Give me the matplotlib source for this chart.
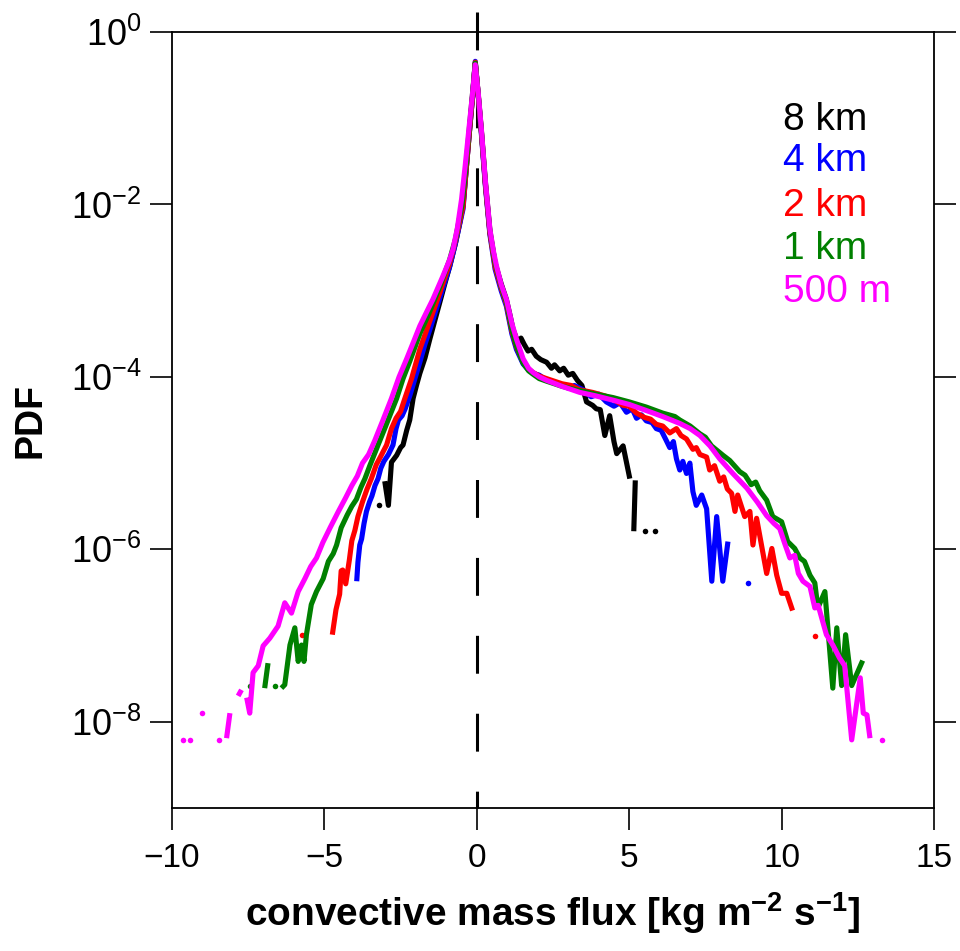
import numpy as np
import matplotlib
matplotlib.use('Agg')
import matplotlib.pyplot as plt
from matplotlib import font_manager
from matplotlib.ticker import FixedLocator

nan = np.nan

# ---- data: x = convective mass flux, lp = log10(PDF) ----
x_8km = [-3.22, nan, -3.02, -2.90, -2.80, -2.63, -2.50, -2.42, -2.30, -2.20, -2.09, -1.98,
         -1.87, -1.70, -1.54, -1.38, -1.21, -1.05, -0.89, -0.70, -0.55, -0.45, -0.35, -0.24,
         -0.14, -0.05, 0.05, 0.15, 0.28, 0.43, 0.60, 0.80, 0.97, 1.10, 1.19, 1.35, 1.45,
         1.55, 1.68, 1.80, 1.95, 2.10, 2.29, 2.45, 2.55, 2.72, 2.85, 3.00, 3.15, 3.30, 3.45,
         3.60, 3.80, 3.92, 4.05, 4.20, 4.36, 4.50, 4.59, 4.80, 5.02, nan, 5.20, 5.15, nan,
         5.51, nan, 5.86]
lp_8km = [-5.49, nan, -5.21, -5.49, -4.99, -4.91, -4.82, -4.79, -4.62, -4.50, -4.25, -4.10,
          -3.96, -3.78, -3.56, -3.35, -3.13, -2.92, -2.72, -2.45, -2.20, -2.00, -1.60, -1.15,
          -0.75, -0.36, -0.75, -1.15, -1.75, -2.32, -2.68, -2.92, -3.10, -3.30, -3.45, -3.60, -3.55,
          -3.62, -3.70, -3.68, -3.76, -3.80, -3.83, -3.90, -3.86, -3.93, -3.90, -3.98, -3.96, -4.04, -4.10,
          -4.29, -4.33, -4.37, -4.38, -4.68, -4.45, -4.75, -4.89, -4.80, -5.18, nan, -5.20, -5.79, nan,
          -5.79, nan, -5.79]

x_4km = [-3.94, -3.90, -3.84, -3.78, -3.70, -3.62, -3.52, -3.44, -3.34, -3.24, -3.15, -3.05,
         -2.90, -2.75, -2.65, -2.57, -2.45, -2.35, -2.20, -2.03, -1.87, -1.70, -1.54, -1.21,
         -0.89, -0.70, -0.45, -0.35, -0.24, -0.14, -0.05, 0.05, 0.15, 0.28, 0.43, 0.60, 0.80,
         0.97, 1.15, 1.30, 1.52, 1.70, 1.85, 2.05, 2.29, 2.60, 3.00, 3.20, 3.49, 3.75, 4.00,
         4.25, 4.50, 4.70, 4.91, 5.10, 5.24, 5.40, 5.56, 5.75, 5.89, 6.05, 6.22, 6.33, 6.45,
         6.55, 6.66, 6.76, 6.88, 6.99, 7.09, 7.20, 7.38, 7.54, 7.71, 7.87, 8.07, 8.24, nan, 8.89]
lp_4km = [-6.37, -6.15, -5.95, -5.88, -5.70, -5.56, -5.45, -5.38, -5.26, -5.18, -5.06, -4.98,
          -4.90, -4.79, -4.60, -4.50, -4.45, -4.37, -4.22, -4.02, -3.83, -3.62, -3.45, -3.08,
          -2.72, -2.45, -2.05, -1.60, -1.15, -0.75, -0.34, -0.75, -1.18, -1.78, -2.35, -2.75, -3.00,
          -3.18, -3.50, -3.68, -3.85, -3.92, -3.96, -3.98, -4.04, -4.07, -4.13, -4.10, -4.15, -4.23, -4.20,
          -4.29, -4.34, -4.30, -4.41, -4.37, -4.48, -4.44, -4.51, -4.53, -4.60, -4.62, -4.74, -4.82, -4.75,
          -4.95, -5.08, -4.98, -5.12, -5.00, -5.33, -5.49, -5.37, -5.53, -6.37, -5.62, -6.37, -5.91, nan, -6.39]

x_2km = [-5.73, nan, -4.74, -4.62, -4.50, -4.45, -4.40, -4.30, -4.18, -4.10, -4.00, -3.90,
         -3.75, -3.60, -3.46, -3.30, -3.15, -2.96, -2.80, -2.65, -2.50, -2.36, -2.14, -1.87,
         -1.54, -1.21, -0.89, -0.70, -0.45, -0.35, -0.24, -0.14, -0.05, 0.05, 0.15, 0.28, 0.43,
         0.60, 0.80, 0.97, 1.15, 1.30, 1.52, 1.70, 1.85, 2.05, 2.29, 2.80, 3.10, 3.38, 3.80,
         4.20, 4.47, 4.80, 5.00, 5.24, 5.50, 5.70, 5.89, 6.10, 6.33, 6.55, 6.70, 6.88, 7.09,
         7.20, 7.32, 7.54, 7.64, 7.80, 7.97, 8.10, 8.22, 8.36, 8.47, 8.56, 8.79, 8.96, 9.06,
         9.18, 9.51, 9.68, 9.84, 10.00, 10.17, 10.36, nan, 11.09]
lp_2km = [-6.99, nan, -6.99, -6.70, -6.52, -6.25, -6.24, -6.40, -6.12, -5.90, -5.78, -5.62,
          -5.45, -5.30, -5.18, -5.02, -4.92, -4.79, -4.60, -4.48, -4.40, -4.25, -4.02, -3.68,
          -3.35, -3.02, -2.68, -2.42, -2.02, -1.60, -1.15, -0.75, -0.35, -0.74, -1.16, -1.76, -2.33,
          -2.72, -2.97, -3.15, -3.47, -3.65, -3.83, -3.91, -3.95, -3.99, -4.02, -4.08, -4.10, -4.15, -4.18,
          -4.22, -4.26, -4.33, -4.34, -4.42, -4.47, -4.49, -4.55, -4.57, -4.65, -4.60, -4.68, -4.72, -4.84,
          -4.82, -4.90, -4.93, -5.08, -5.03, -5.21, -5.16, -5.30, -5.35, -5.56, -5.37, -5.62, -5.56, -5.95,
          -5.64, -6.28, -5.99, -6.30, -6.51, -6.51, -6.71, nan, -7.00]

x_1km = [-7.45, nan, -6.96, -6.85, nan, -6.63, nan, -6.41, -6.30, -6.13, -5.97, -5.86,
         -5.75, -5.67, -5.59, -5.43, -5.26, -5.04, -4.87, -4.71, -4.60, -4.45, -4.25, -4.10,
         -3.95, -3.80, -3.67, -3.50, -3.24, -3.00, -2.63, -2.42, -2.20, -1.87, -1.54, -1.21,
         -0.89, -0.70, -0.48, -0.36, -0.25, -0.15, -0.05, 0.05, 0.15, 0.28, 0.43, 0.60, 0.80,
         0.97, 1.15, 1.30, 1.52, 1.70, 1.85, 2.05, 2.29, 2.80, 3.38, 3.90, 4.47, 5.00, 5.56,
         6.10, 6.50, 6.66, 7.00, 7.32, 7.50, 7.70, 8.08, 8.30, 8.63, 8.80, 9.00, 9.15, 9.28,
         9.51, 9.71, 10.00, 10.20, 10.43, 10.60, 10.75, 10.93, 11.09, 11.19, 11.42, 11.68, 11.81,
         11.97, 12.10, 12.30, 12.66]
lp_1km = [-7.58, nan, -7.61, -7.32, nan, -7.58, nan, -7.61, -7.57, -7.11, -6.91, -7.30,
          -7.11, -7.30, -6.99, -6.64, -6.49, -6.34, -6.14, -6.05, -5.95, -5.75, -5.60, -5.50,
          -5.42, -5.28, -5.18, -5.02, -4.79, -4.58, -4.25, -4.02, -3.82, -3.50, -3.24, -2.95,
          -2.64, -2.40, -2.00, -1.58, -1.14, -0.75, -0.36, -0.73, -1.14, -1.73, -2.30, -2.68, -2.95,
          -3.13, -3.45, -3.64, -3.84, -3.93, -3.97, -4.02, -4.05, -4.11, -4.16, -4.20, -4.24, -4.29, -4.35,
          -4.42, -4.46, -4.50, -4.57, -4.66, -4.70, -4.80, -4.91, -4.97, -5.10, -5.14, -5.25, -5.22, -5.32,
          -5.43, -5.62, -5.68, -5.91, -5.99, -6.10, -6.14, -6.30, -6.39, -6.68, -6.49, -7.61, -6.91,
          -7.58, -6.99, -7.58, -7.29]

x_500m = [-9.63, nan, -9.41, nan, -9.03, nan, -8.46, nan, -8.21, -8.10, nan, -7.83, -7.72, nan,
          -7.55, -7.45, -7.34, -7.17, -7.01, -6.79, -6.52, -6.30, -6.08, -5.86, -5.64, -5.45,
          -5.26, -5.05, -4.80, -4.54, -4.30, -4.10, -3.92, -3.75, -3.55, -3.35, -3.10, -2.80,
          -2.55, -2.30, -2.05, -1.87, -1.65, -1.44, -1.11, -0.90, -0.78, -0.64, -0.50, -0.38,
          -0.26, -0.15, -0.05, 0.05, 0.15, 0.28, 0.43, 0.55, 0.65, 0.80, 0.97, 1.15, 1.30, 1.52,
          1.70, 1.85, 2.05, 2.29, 2.80, 3.38, 3.90, 4.47, 5.00, 5.56, 6.10, 6.66, 7.00, 7.32,
          7.65, 7.97, 8.40, 8.86, 9.20, 9.51, 9.75, 9.94, 10.10, 10.27, 10.43, 10.55, 10.70,
          10.93, 11.09, 11.20, 11.47, 11.68, 11.90, 12.07, 12.30, 12.58, 12.68, 12.80, 12.90,
          nan, 13.29]
lp_500m = [-8.21, nan, -8.21, nan, -7.90, nan, -8.21, nan, -8.19, -7.90, nan, -7.70, -7.63, nan,
           -7.72, -7.90, -7.43, -7.35, -7.12, -7.03, -6.89, -6.62, -6.74, -6.49, -6.34, -6.20,
           -6.10, -5.92, -5.74, -5.56, -5.40, -5.26, -5.15, -5.00, -4.90, -4.74, -4.52, -4.25,
           -4.00, -3.79, -3.57, -3.41, -3.25, -3.10, -2.83, -2.65, -2.52, -2.28, -1.94, -1.55,
           -1.13, -0.75, -0.38, -0.72, -1.13, -1.72, -2.29, -2.55, -2.72, -2.93, -3.10, -3.38, -3.56, -3.79,
           -3.90, -3.95, -4.00, -4.04, -4.11, -4.18, -4.22, -4.27, -4.32, -4.39, -4.46, -4.54, -4.60, -4.68,
           -4.80, -4.95, -5.12, -5.29, -5.45, -5.61, -5.70, -5.76, -5.93, -6.10, -6.07, -6.28, -6.37,
           -6.43, -6.68, -6.65, -6.99, -7.11, -7.26, -7.35, -8.21, -7.49, -7.90, -7.92, -8.19,
           nan, -8.21]

labels = ['8 km', '4 km', '2 km', '1 km', '500 m']
colors = ['black', 'blue', 'red', 'green', 'magenta']
xs = [x_8km, x_4km, x_2km, x_1km, x_500m]
lps = [lp_8km, lp_4km, lp_2km, lp_1km, lp_500m]

names = {f.name for f in font_manager.fontManager.ttflist}
narrow = 'Liberation Sans Narrow' if 'Liberation Sans Narrow' in names else 'Liberation Sans'
plt.rcParams['font.family'] = ['Liberation Sans', 'DejaVu Sans']
plt.rcParams['mathtext.fontset'] = 'custom'
plt.rcParams['mathtext.rm'] = 'Liberation Sans'
plt.rcParams['mathtext.bf'] = 'Liberation Sans:bold'

fig = plt.figure(figsize=(9.6, 9.51), dpi=100)
ax = fig.add_axes([172/960, 1-808/951, 762/960, 776/951])

# dashed zero line (pokes out above the frame like in the original)
ax.plot([0, 0], [1.7, 1e-9], color='black', lw=2.2,
        linestyle=(0, (12.4, 13.1)), zorder=1, clip_on=False)

for x, lp, c in zip(xs, lps, colors):
    x = np.array(x)
    y = 10.0**np.array(lp)
    ax.plot(x, y, color=c, lw=3.7, solid_capstyle='butt', zorder=2)
    # isolated bins show up as dots
    ok = np.isfinite(y)
    prev = np.r_[False, ok[:-1]]
    nxt = np.r_[ok[1:], False]
    iso = ok & ~prev & ~nxt
    ax.plot(x[iso], y[iso], 'o', color=c, ms=4, mew=0, zorder=2)

ax.set_yscale('log')
ax.set_xlim(-10, 15)
ax.set_ylim(1e-9, 1)

ax.xaxis.set_major_locator(FixedLocator([-10, -5, 0, 5, 10, 15]))
ax.yaxis.set_major_locator(FixedLocator([1, 1e-2, 1e-4, 1e-6, 1e-8]))
ax.yaxis.set_minor_locator(FixedLocator([]))
ax.set_xticklabels(['\u221210', '\u22125', '0', '5', '10', '15'], family=narrow, fontsize=24)
ax.set_yticklabels([r'$\mathregular{10^{0}}$', r'$\mathregular{10^{-2}}$',
                    r'$\mathregular{10^{-4}}$', r'$\mathregular{10^{-6}}$',
                    r'$\mathregular{10^{-8}}$'], fontsize=26)
ax.tick_params(which='major', direction='out', length=16, width=1.2,
               top=False, right=True, pad=6)
ax.tick_params(axis='x', pad=9)
for s in ax.spines.values():
    s.set_linewidth(1.3)

ax.set_xlabel(r'convective mass flux [kg m$^{\mathbf{-2}}$ s$^{\mathbf{-1}}$]',
              fontsize=28, fontweight='bold', family=narrow, labelpad=12)
ax.set_ylabel('PDF', fontsize=27, fontweight='bold', labelpad=16)

ty = [0.887, 0.834, 0.776, 0.721, 0.665]
for lab, c, yy in zip(labels, colors, ty):
    ax.text(0.802, yy, lab, color=c, fontsize=28, transform=ax.transAxes,
            ha='left', va='center')

fig.savefig('out.png', dpi=100)
